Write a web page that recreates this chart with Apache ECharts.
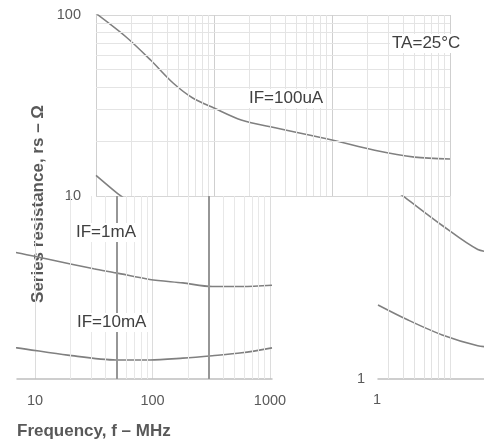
<!DOCTYPE html>
<html>
<head>
<meta charset="utf-8">
<script src="https://cdn.jsdelivr.net/npm/echarts@6/dist/echarts.min.js"></script>
<style>html,body{margin:0;padding:0;background:#fff}#c{width:484px;height:447px}</style>
</head>
<body>
<div id="c"></div>
<script>
// ---- data ----
const freq100uA = [10, 18, 29, 45, 66, 100, 170, 330, 1000, 2300, 5000, 10000];
const r100uA    = [102, 75.6, 56.4, 42.1, 34.8, 30.6, 26.3, 23.8, 20.4, 17.9, 16.4, 16.0];
const freq1mA   = [10, 15, 17, 35, 70, 100, 180, 400, 600, 1100, 2000, 3400, 5800, 10000];
const r1mA      = [13.0, 10.4, 9.8, 6.9, 5.1, 4.9, 4.5, 4.0, 3.8, 3.5, 3.35, 3.2, 3.2, 3.25];
const freq10mA  = [10, 18, 35, 70, 100, 250, 600, 1100, 2000, 3400, 5800, 10000];
const r10mA     = [2.54, 2.10, 1.74, 1.52, 1.48, 1.35, 1.27, 1.27, 1.30, 1.34, 1.39, 1.48];

const xTickLabels = ['10', '100', '1000'];
const yTickLabelsTop = ['10', '100'];

// gridline values
const minorMult = [2, 3, 4, 5, 6, 7, 8, 9];
const decadesTopX = [10, 100, 1000];
const decadesTopY = [10];
const decadesLabelX = [10, 100];
const darkLinesBottom = [50, 300];
const rightLines = [3000, 4000, 5000, 6000, 7000, 8000, 9000, 10000];

const minorOf = decs => decs.flatMap(d => minorMult.map(m => d * m));
const pairs = (f, r) => f.map((v, i) => [v, r[i]]);

const FONT = 'Liberation Sans';
const LBL = '#595959';
const TXT = '#404040';
const CURVE = '#808080';

const hiddenAxis = (extra) => Object.assign({
  axisLabel: {show: false}, axisLine: {show: false}, axisTick: {show: false}, splitLine: {show: false}
}, extra);

const curve = (data, xi, yi) => ({
  type: 'line', data, xAxisIndex: xi, yAxisIndex: yi, showSymbol: false, symbol: 'none',
  smooth: 0.3, clip: true,
  lineStyle: {color: CURVE, width: 1.6}, silent: true
});

const carrier = (xi, yi, lines) => ({
  type: 'line', data: [], xAxisIndex: xi, yAxisIndex: yi, silent: true,
  markLine: {silent: true, symbol: ['none', 'none'], animation: false, label: {show: false},
    data: lines}
});

const note = (text, left, top) => ({
  type: 'text', left, top, silent: true, z: 100,
  style: {text, fill: TXT, font: '17px "Liberation Sans"', backgroundColor: '#fff', padding: [1, 2]}
});

const chart = echarts.init(document.getElementById('c'), null, {renderer: 'canvas'});
chart.setOption({
  animation: false,
  backgroundColor: '#fff',
  grid: [
    {left: 96, top: 15, width: 354, height: 181},
    {left: 17, top: 196, width: 255, height: 183},
    {left: 35, top: 196, width: 235, height: 183},
    {left: 378, top: 196, width: 106, height: 183}
  ],
  xAxis: [
    hiddenAxis({type: 'log', logBase: 10, gridIndex: 0, min: 10, max: 10000,
      splitLine: {show: true, lineStyle: {color: '#cfcfcf', width: 1}}}),
    hiddenAxis({type: 'log', logBase: 10, gridIndex: 1, min: 100, max: 10000,
      axisLine: {show: true, onZero: false, lineStyle: {color: '#bfbfbf', width: 1.5}}}),
    hiddenAxis({type: 'log', logBase: 10, gridIndex: 2, min: 10, max: 1000,
      axisLabel: {show: true, color: LBL, fontFamily: FONT, fontSize: 14.5, margin: 14,
        formatter: v => xTickLabels.includes(String(Math.round(v))) ? String(Math.round(v)) : ''},
      splitLine: {show: true, lineStyle: {color: '#dcdcdc', width: 1}}}),
    hiddenAxis({type: 'log', logBase: 10, gridIndex: 3, min: 10, max: 79,
      axisLine: {show: true, onZero: false, lineStyle: {color: '#bfbfbf', width: 1.5}}}),
    hiddenAxis({type: 'log', logBase: 10, gridIndex: 3, min: 2456, max: 19400})
  ],
  yAxis: [
    hiddenAxis({type: 'log', logBase: 10, gridIndex: 0, min: 10, max: 100,
      axisLabel: {show: true, color: LBL, fontFamily: FONT, fontSize: 14.5, margin: 15,
        formatter: v => yTickLabelsTop.includes(String(Math.round(v))) ? String(Math.round(v)) : ''},
      splitLine: {show: true, lineStyle: {color: '#d6d6d6', width: 1}}}),
    hiddenAxis({type: 'log', logBase: 10, gridIndex: 1, min: 1, max: 10}),
    hiddenAxis({type: 'log', logBase: 10, gridIndex: 2, min: 1, max: 10}),
    hiddenAxis({type: 'log', logBase: 10, gridIndex: 3, min: 1, max: 10,
      axisLabel: {show: true, color: LBL, fontFamily: FONT, fontSize: 14.5, margin: 13,
        formatter: v => (Math.round(v) === 1 ? '1' : '')}})
  ],
  series: [
    carrier(0, 0, minorOf(decadesTopX).map(v => ({xAxis: v, lineStyle: {color: '#e4e4e4', width: 1, type: 'solid'}}))
      .concat(minorOf(decadesTopY).map(v => ({yAxis: v, lineStyle: {color: '#e4e4e4', width: 1, type: 'solid'}})))),
    carrier(2, 2, minorOf(decadesLabelX).map(v => ({xAxis: v, lineStyle: {color: '#e8e8e8', width: 1, type: 'solid'}}))
      .concat(darkLinesBottom.map(v => ({xAxis: v, lineStyle: {color: '#969696', width: 2, type: 'solid'}})))),
    carrier(4, 3, rightLines.map(v => ({xAxis: v, lineStyle: {color: '#e2e2e2', width: 1, type: 'solid'}}))),
    curve(pairs(freq100uA, r100uA), 0, 0),
    curve(pairs(freq1mA, r1mA), 0, 0),
    curve(pairs(freq1mA, r1mA), 1, 1),
    curve(pairs(freq10mA, r10mA), 1, 1),
    curve(pairs(freq1mA, r1mA), 3, 3),
    curve(pairs(freq10mA, r10mA), 3, 3)
  ],
  graphic: [
    note('TA=25°C', 390, 34),
    note('IF=100uA', 247, 89),
    note('IF=1mA', 74, 223),
    note('IF=10mA', 75, 313),
    {type: 'text', left: 373, top: 392, silent: true,
      style: {text: '1', fill: LBL, font: '14.5px "Liberation Sans"'}},
    {type: 'text', left: 17, top: 423, silent: true,
      style: {text: 'Frequency, f – MHz', fill: LBL, font: 'bold 17px "Liberation Sans"'}},
    {type: 'text', x: 38, y: 204, rotation: Math.PI / 2, silent: true,
      style: {text: 'Series resistance, rs – Ω', fill: LBL, font: 'bold 17px "Liberation Sans"',
        align: 'center', verticalAlign: 'middle'}}
  ]
});
</script>
</body>
</html>
